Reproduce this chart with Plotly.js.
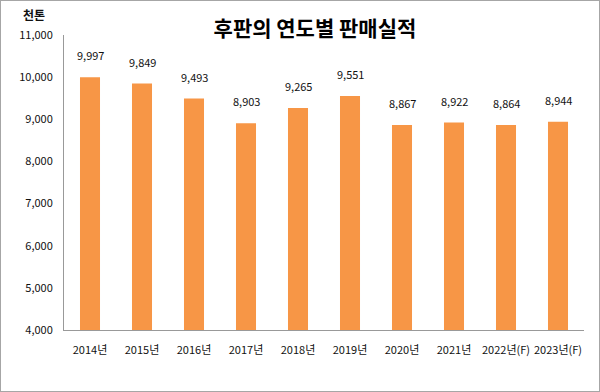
<!DOCTYPE html>
<html><head><meta charset="utf-8">
<script src="https://cdn.plot.ly/plotly-3.0.1.min.js"></script>
<style>
body{margin:0;background:#fff;}
#c{width:598px;height:390px;border:1px solid #a6a6a6;}
</style></head>
<body><div id="c"></div>
<script>
const years = ['2014년','2015년','2016년','2017년','2018년','2019년','2020년','2021년','2022년(F)','2023년(F)'];
const sales = [9997, 9849, 9493, 8903, 9265, 9551, 8867, 8922, 8864, 8944];
const yTicks = [4000,5000,6000,7000,8000,9000,10000,11000];
const yTickText = ['4,000','5,000','6,000','7,000','8,000','9,000','10,000','11,000'];

const font = "'Noto Sans CJK KR', 'Noto Sans', sans-serif";
const annotations = years.map((y,i)=>({
  x: y, y: sales[i], xref:'x', yref:'y',
  text: sales[i].toLocaleString('en-US'),
  showarrow:false, yanchor:'bottom', yshift:12,
  font:{family:font,size:11,color:'#111'}
}));
annotations.push({xref:'paper',yref:'paper',x:-0.082,y:1.035,xanchor:'left',yanchor:'bottom',
  text:'<b>천톤</b>',showarrow:false,font:{family:font,size:12,color:'#111'}});

Plotly.newPlot('c',[{
  type:'bar', x: years, y: sales,
  marker:{color:'#F79646'},
  hoverinfo:'none'
}],{
  width:598, height:390,
  margin:{l:63,r:15,t:34,b:61},
  paper_bgcolor:'#fff', plot_bgcolor:'#fff',
  bargap:0.615,
  showlegend:false,
  title:{text:'<b>후판의 연도별 판매실적</b>', x:0.525, xanchor:'center', y:0.93, yanchor:'middle',
    font:{family:font,size:21,color:'#000'}},
  xaxis:{showline:true, linecolor:'#999', linewidth:1, ticks:'', showgrid:false,
    tickfont:{family:font,size:11,color:'#111'}, ticklabelstandoff:10},
  yaxis:{range:[4000,11000], tickvals:yTicks, ticktext:yTickText, showline:true, linecolor:'#999',
    linewidth:1, ticks:'', showgrid:false, zeroline:false,
    tickfont:{family:font,size:11,color:'#111'}, ticklabelstandoff:8},
  annotations: annotations
},{displayModeBar:false, staticPlot:true});
</script></body></html>
